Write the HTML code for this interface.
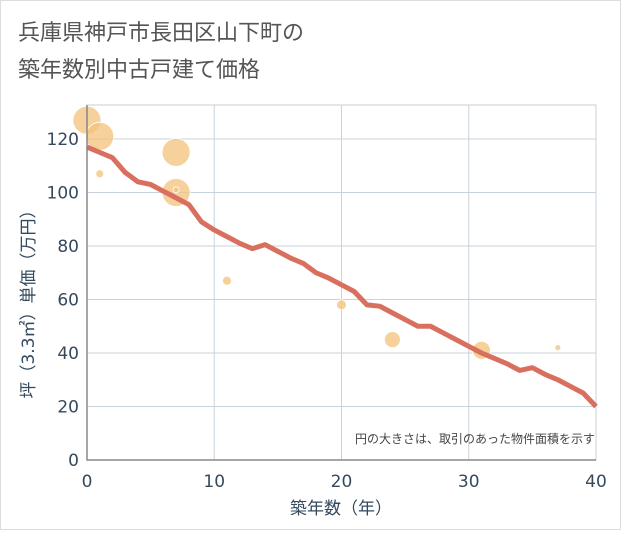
<!DOCTYPE html>
<html><head><meta charset="utf-8"><style>
body{margin:0;background:#fff;}
svg text{font-family:"DejaVu Sans","Noto Sans CJK JP",sans-serif;}
</style></head><body>
<svg id="chart" width="621" height="530" xmlns="http://www.w3.org/2000/svg">
<rect x="0.5" y="0.5" width="620" height="529" fill="#fff" stroke="#ddd"/>
<text x="18" y="40" font-size="22" fill="#555">兵庫県神戸市長田区山下町の</text>
<text x="18" y="77" font-size="22" fill="#555">築年数別中古戸建て価格</text>
<g id="grid"></g>
<g id="bubbles"></g>
<path id="trend" fill="none" stroke="#d9705f" stroke-width="5" stroke-linejoin="round"/>
<g id="axes"></g>
<text x="595" y="443" font-size="12" fill="#444" text-anchor="end">円の大きさは、取引のあった物件面積を示す</text>
<text x="341" y="514" font-size="17" fill="#34495e" text-anchor="middle">築年数（年）</text>
<text transform="translate(34,300) rotate(-90)" font-size="17" fill="#34495e" text-anchor="middle">坪（3.3㎡）単価（万円）</text>
</svg>
<script>
const xTicks=[0,10,20,30,40];
const yTicks=[0,20,40,60,80,100,120];
const trendYears=[0,1,2,3,4,5,6,7,8,9,10,11,12,13,14,15,16,17,18,19,20,21,22,23,24,25,26,27,28,29,30,31,32,33,34,35,36,37,38,39,40];
const trendValues=[117,115,113,107.5,104,103,100.5,98,95.5,89,86,83.5,81,79,80.5,78,75.5,73.5,70,68,65.5,63,58,57.5,55,52.5,50,50,47.5,45,42.5,40,38,36,33.5,34.5,32,30,27.5,25,20];
const bubbleYears=[0,1,1,7,7,7,11,20,24,31,37];
const bubblePrices=[127,121,107,115,100,101,67,58,45,41,42];
const bubbleSizes=[14,14,4,14,14,3,4.5,5,8,9,3];
const X0=87,X1=596,Y0=460,Ytop=105;
const xs=v=>X0+(v-0)/40*(X1-X0);
const ys=v=>Y0-v/120*(Y0-139);
const NS="http://www.w3.org/2000/svg";
function mk(tag,attrs,parent){const e=document.createElementNS(NS,tag);for(const k in attrs)e.setAttribute(k,attrs[k]);parent.appendChild(e);return e;}
const grid=document.getElementById('grid'),axes=document.getElementById('axes'),bub=document.getElementById('bubbles');
mk('rect',{x:X0,y:Ytop,width:X1-X0,height:Y0-Ytop,fill:'none',stroke:'#ccc'},grid);
yTicks.forEach(t=>{
 const l=mk('line',{x1:X0,x2:X1,y1:ys(t),y2:ys(t),stroke:'#c8d3de','stroke-width':1},grid);
 
 
 const tx=mk('text',{x:X0-8,y:ys(t)+6,'font-size':17,fill:'#34495e','text-anchor':'end'},axes);
 tx.textContent=t;
 
 
});
xTicks.forEach(t=>{
 const l=mk('line',{x1:xs(t),x2:xs(t),y1:Ytop,y2:Y0,stroke:'#c8d3de','stroke-width':1},grid);
 
 
 const tx=mk('text',{x:xs(t),y:Y0+27,'font-size':17,fill:'#34495e','text-anchor':'middle'},axes);
 tx.textContent=t;
 
 
});
const ax=mk('path',{d:`M${X0},${Ytop}V${Y0}H${X1}`,fill:'none',stroke:'#888','stroke-width':1.5},axes);


bubbleYears.forEach((yr,i)=>{
 const c=mk('circle',{cx:xs(yr),cy:ys(bubblePrices[i]),r:bubbleSizes[i],fill:'#f3c27a','fill-opacity':0.75,stroke:'#fff','stroke-width':0.8},bub);
 
 
});
document.getElementById('trend').setAttribute('d',trendYears.map((y,i)=>(i?'L':'M')+xs(y)+','+ys(trendValues[i])).join(''));
</script>
</body></html>
